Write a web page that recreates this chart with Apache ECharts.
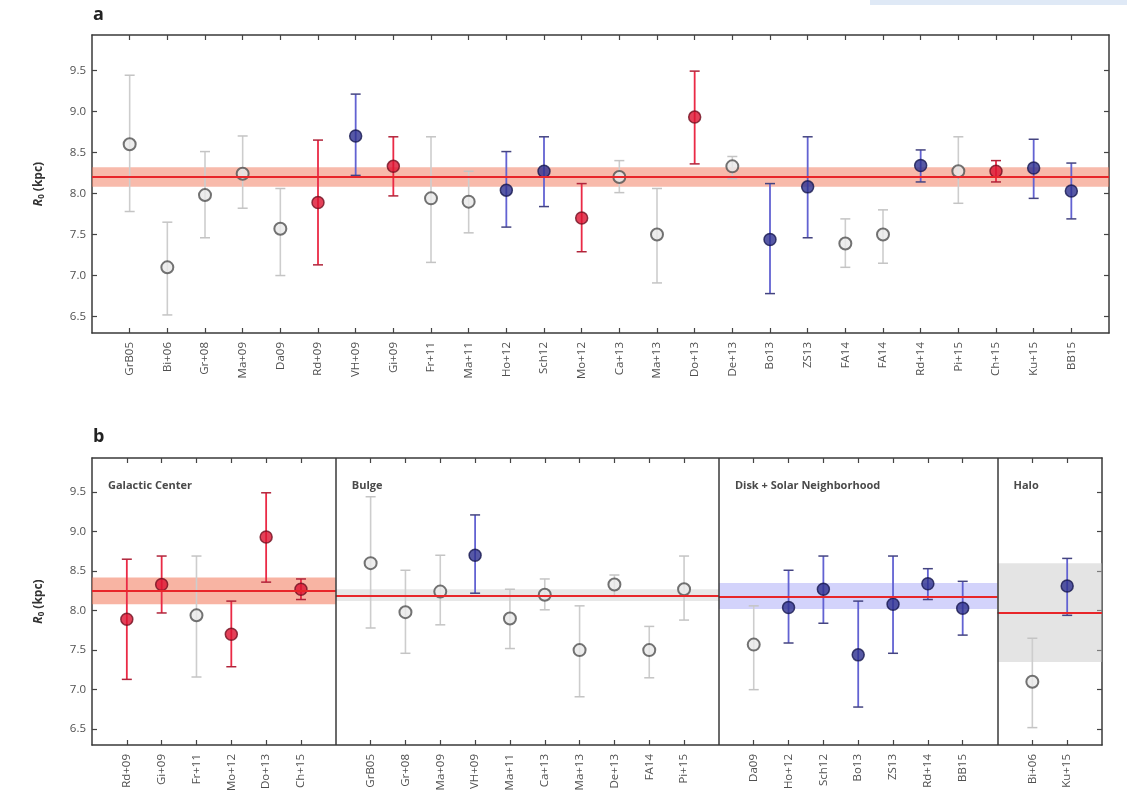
<!DOCTYPE html>
<html>
<head>
<meta charset="utf-8">
<script src="https://cdn.jsdelivr.net/npm/echarts@6/dist/echarts.min.js"></script>
<style>
  html, body { margin: 0; padding: 0; background: #fff; }
  #chart { width: 1127px; height: 809px; }
</style>
</head>
<body>
<div id="chart"></div>
<script>
// measurements, panel a order
const names = ['GrB05', 'Bi+06', 'Gr+08', 'Ma+09', 'Da09', 'Rd+09', 'VH+09', 'Gi+09', 'Fr+11', 'Ma+11',
  'Ho+12', 'Sch12', 'Mo+12', 'Ca+13', 'Ma+13', 'Do+13', 'De+13', 'Bo13', 'ZS13', 'FA14',
  'FA14', 'Rd+14', 'Pi+15', 'Ch+15', 'Ku+15', 'BB15']
const r0 = [8.60, 7.10, 7.98, 8.24, 7.57, 7.89, 8.70, 8.33, 7.94, 7.90,
  8.04, 8.27, 7.70, 8.20, 7.50, 8.93, 8.33, 7.44, 8.08, 7.39,
  7.50, 8.34, 8.27, 8.27, 8.31, 8.03]
const errHi = [9.44, 7.65, 8.51, 8.70, 8.06, 8.65, 9.21, 8.69, 8.69, 8.27,
  8.51, 8.69, 8.12, 8.40, 8.06, 9.49, 8.45, 8.12, 8.69, 7.69,
  7.80, 8.53, 8.69, 8.40, 8.66, 8.37]
const errLo = [7.78, 6.52, 7.46, 7.82, 7.00, 7.13, 8.22, 7.97, 7.16, 7.52,
  7.59, 7.84, 7.29, 8.01, 6.91, 8.36, 8.18, 6.78, 7.46, 7.10,
  7.15, 8.14, 7.88, 8.14, 7.94, 7.69]
// 0 = other (open grey), 1 = red, 2 = blue
const kind = [0, 0, 0, 0, 0, 1, 2, 1, 0, 0,
  2, 2, 1, 0, 0, 1, 0, 2, 2, 0,
  0, 2, 0, 1, 2, 2]

const yTicks = [6.5, 7.0, 7.5, 8.0, 8.5, 9.0, 9.5]

// panel a average band
const allMean = 8.20
const allLo = 8.08
const allHi = 8.32

// panel b groups (indices into the arrays above)
const groupTitles = ['Galactic Center', 'Bulge', 'Disk + Solar Neighborhood', 'Halo']
const groupIdx = [
  [5, 7, 8, 12, 15, 23],
  [0, 2, 3, 6, 9, 13, 14, 16, 20, 22],
  [4, 10, 11, 17, 18, 21, 25],
  [1, 24]
]
const groupMean = [8.25, 8.19, 8.18, 7.97]
const groupLo = [8.08, 8.12, 8.02, 7.35]
const groupHi = [8.42, 8.27, 8.35, 8.60]

const FONT = '"Open Sans", "Noto Sans", sans-serif'
const pointStyle = [
  { color: '#e8e8e8', borderColor: '#505050', borderWidth: 2 },
  { color: '#dc1230', borderColor: '#701020', borderWidth: 1.5 },
  { color: '#2d2f8e', borderColor: '#17184f', borderWidth: 1.5 }
]
const barColor = ['#cdcdcd', '#ea2a45', '#6262d2']
const capColor = ['#c4c4c4', '#b0243a', '#444480']
const groupBand = ['rgba(242,118,88,0.55)', 'rgba(195,195,195,0.4)', 'rgba(150,150,245,0.42)', 'rgba(195,195,195,0.45)']

// x positions for panel a
const posA = names.map((n, i) => i + 1)

// x positions for panel b: one slot gap between the groups
let posB = []
let dividers = []
let groupStart = []
let slot = 0
groupIdx.forEach((g, gi) => {
  groupStart.push(slot)
  g.forEach(idx => { slot++; posB.push({ x: slot, idx: idx }) })
  slot++
  if (gi < groupIdx.length - 1) dividers.push(slot)
})
const maxB = slot

function errorBarItem(params, api) {
  const x = api.value(0)
  const lo = api.value(1)
  const hi = api.value(2)
  const k = api.value(3)
  const top = api.coord([x, hi])
  const bot = api.coord([x, lo])
  const cap = 5
  const lw = k === 0 ? 1.6 : 1.8
  return {
    type: 'group',
    children: [
      { type: 'line', shape: { x1: top[0], y1: top[1], x2: bot[0], y2: bot[1] }, style: { stroke: barColor[k], lineWidth: lw } },
      { type: 'line', shape: { x1: top[0] - cap, y1: top[1], x2: top[0] + cap, y2: top[1] }, style: { stroke: capColor[k], lineWidth: 1.5 } },
      { type: 'line', shape: { x1: bot[0] - cap, y1: bot[1], x2: bot[0] + cap, y2: bot[1] }, style: { stroke: capColor[k], lineWidth: 1.5 } }
    ]
  }
}

function makeAxes(gi, maxX, tickPos, labelOf) {
  const line = { show: true, onZero: false, lineStyle: { color: '#3a3a3a', width: 1.5 } }
  const tick = { show: true, inside: true, length: 5, lineStyle: { color: '#444', width: 1.2 } }
  const x = [
    {
      gridIndex: gi, type: 'value', min: 0, max: maxX, position: 'bottom',
      axisLine: line, splitLine: { show: false },
      axisTick: Object.assign({ customValues: tickPos }, tick),
      axisLabel: {
        customValues: tickPos, rotate: 90, margin: 9, color: '#505050', fontSize: 11.5, fontFamily: FONT,
        formatter: v => labelOf(v)
      }
    },
    {
      gridIndex: gi, type: 'value', min: 0, max: maxX, position: 'top',
      axisLine: line, splitLine: { show: false },
      axisTick: Object.assign({ customValues: tickPos }, tick),
      axisLabel: { show: false }
    }
  ]
  const y = [
    {
      gridIndex: gi, type: 'value', min: 6.3, max: 9.93, position: 'left',
      axisLine: line, splitLine: { show: false },
      axisTick: Object.assign({ customValues: yTicks }, tick),
      axisLabel: {
        customValues: yTicks, color: '#505050', fontSize: 11.5, fontFamily: FONT, margin: 6,
        formatter: v => v.toFixed(1)
      },
      name: '{i|R}{s|0}{n| (kpc)}', nameLocation: 'middle', nameGap: 46, nameRotate: 90,
      nameTextStyle: {
        rich: {
          i: { fontStyle: 'italic', fontWeight: 'bold', fontSize: 12, color: '#333', fontFamily: FONT },
          s: { fontWeight: 'bold', fontSize: 8, color: '#333', fontFamily: FONT, verticalAlign: 'bottom', padding: [6, 0, 0, 0] },
          n: { fontWeight: 'bold', fontSize: 12, color: '#333', fontFamily: FONT }
        }
      }
    },
    {
      gridIndex: gi, type: 'value', min: 6.3, max: 9.93, position: 'right',
      axisLine: line, splitLine: { show: false },
      axisTick: Object.assign({ customValues: yTicks }, tick),
      axisLabel: { show: false }
    }
  ]
  return { x, y }
}

const axA = makeAxes(0, names.length + 1, posA, v => names[Math.round(v) - 1] || '')
const labelB = {}
posB.forEach(p => { labelB[p.x] = names[p.idx] })
const axB = makeAxes(1, maxB, posB.map(p => p.x), v => labelB[Math.round(v)] || '')

const series = []

// panel a band + mean
series.push({
  type: 'line', xAxisIndex: 0, yAxisIndex: 0, data: [], z: 1,
  markArea: { silent: true, itemStyle: { color: 'rgba(242,118,88,0.5)' }, data: [[{ yAxis: allLo }, { yAxis: allHi }]] },
  markLine: { silent: true, symbol: ['none', 'none'], label: { show: false }, lineStyle: { color: '#e8262a', width: 2, type: 'solid' }, data: [{ yAxis: allMean }] }
})
series.push({
  type: 'custom', xAxisIndex: 0, yAxisIndex: 0, z: 3,
  renderItem: errorBarItem,
  data: posA.map((x, i) => [x, errLo[i], errHi[i], kind[i]])
})
series.push({
  type: 'scatter', xAxisIndex: 0, yAxisIndex: 0, z: 4, symbolSize: 12,
  data: posA.map((x, i) => ({ value: [x, r0[i]], itemStyle: pointStyle[kind[i]] }))
})

// panel b bands per group
groupIdx.forEach((g, gi) => {
  const x0 = groupStart[gi]
  const x1 = x0 + g.length + 1
  series.push({
    type: 'line', xAxisIndex: 2, yAxisIndex: 2, data: [], z: 1,
    markArea: { silent: true, itemStyle: { color: groupBand[gi] }, data: [[{ xAxis: x0, yAxis: groupLo[gi] }, { xAxis: x1, yAxis: groupHi[gi] }]] },
    markLine: {
      silent: true, symbol: ['none', 'none'], label: { show: false },
      lineStyle: { color: '#e8262a', width: 2, type: 'solid' },
      data: [[{ coord: [x0, groupMean[gi]] }, { coord: [x1, groupMean[gi]] }]]
    }
  })
})
// dividers
series.push({
  type: 'line', xAxisIndex: 2, yAxisIndex: 2, data: [], z: 2,
  markLine: {
    silent: true, symbol: ['none', 'none'], label: { show: false },
    lineStyle: { color: '#3a3a3a', width: 1.5, type: 'solid' },
    data: dividers.map(d => ({ xAxis: d }))
  }
})
series.push({
  type: 'custom', xAxisIndex: 2, yAxisIndex: 2, z: 3,
  renderItem: errorBarItem,
  data: posB.map(p => [p.x, errLo[p.idx], errHi[p.idx], kind[p.idx]])
})
series.push({
  type: 'scatter', xAxisIndex: 2, yAxisIndex: 2, z: 4, symbolSize: 12,
  data: posB.map(p => ({ value: [p.x, r0[p.idx]], itemStyle: pointStyle[kind[p.idx]] }))
})

const gridB = { left: 92, top: 458, width: 1010, height: 287 }
const slotW = gridB.width / maxB

const graphic = [
  { type: 'rect', left: 870, top: 0, shape: { width: 257, height: 5 }, style: { fill: '#dfe9f6' } },
  { type: 'text', left: 93, top: 6, style: { text: 'a', fontSize: 18, fontWeight: 'bold', fill: '#222', fontFamily: FONT } },
  { type: 'text', left: 93, top: 428, style: { text: 'b', fontSize: 18, fontWeight: 'bold', fill: '#222', fontFamily: FONT } }
]
groupTitles.forEach((t, gi) => {
  graphic.push({
    type: 'text', left: gridB.left + groupStart[gi] * slotW + 16, top: 480,
    style: { text: t, fontSize: 11, fontWeight: 'bold', fill: '#4a4a4a', fontFamily: FONT }
  })
})

const chart = echarts.init(document.getElementById('chart'), null, { renderer: 'canvas' })
chart.setOption({
  animation: false,
  backgroundColor: '#fff',
  grid: [
    { left: 92, top: 35, width: 1017, height: 298 },
    gridB
  ],
  xAxis: axA.x.concat(axB.x),
  yAxis: axA.y.concat(axB.y),
  series: series,
  graphic: graphic
})
</script>
</body>
</html>
